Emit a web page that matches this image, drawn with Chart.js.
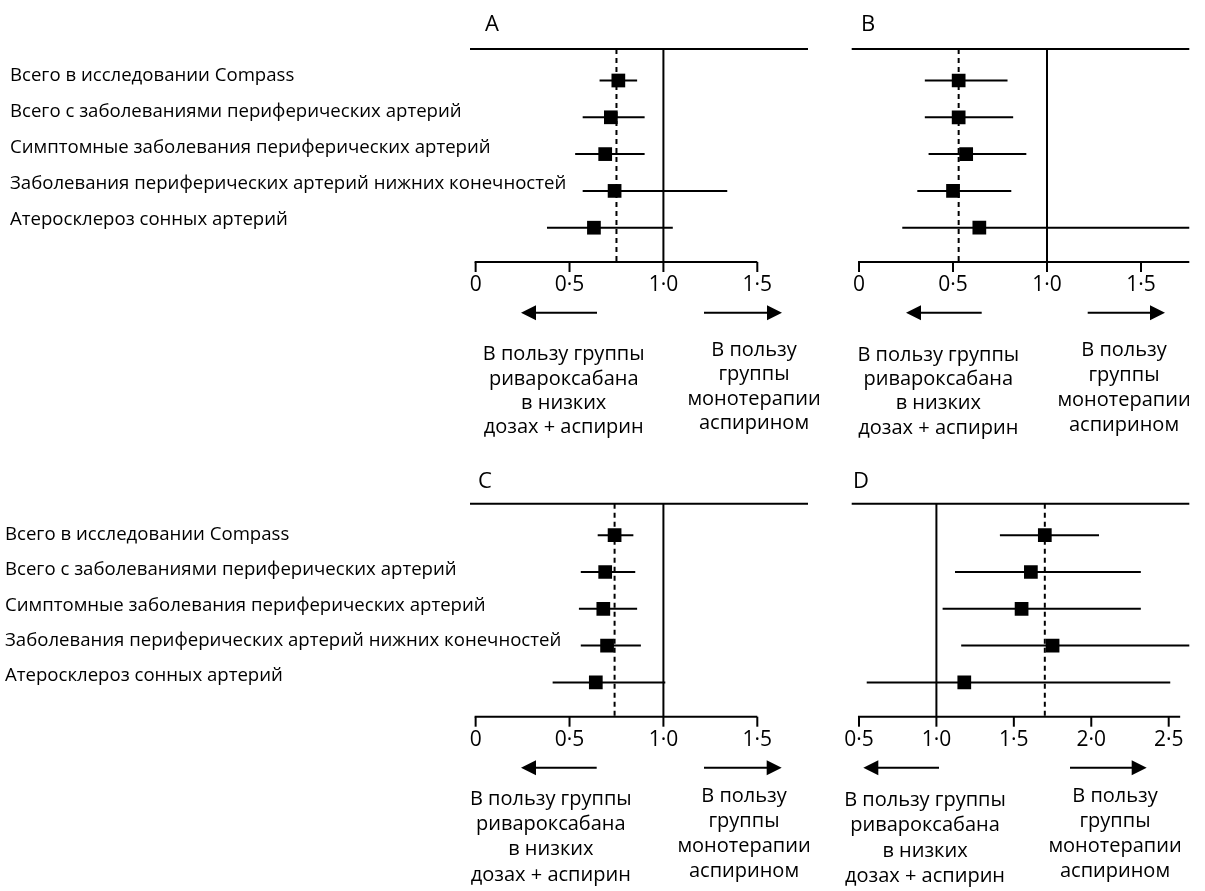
<!DOCTYPE html>
<html>
<head>
<meta charset="utf-8">
<script src="https://cdn.jsdelivr.net/npm/chart.js@4.4.1/dist/chart.umd.min.js"></script>
<style>
  html, body { margin: 0; padding: 0; background: #ffffff; }
  #wrap { position: relative; width: 1205px; height: 891px; overflow: hidden; background: #ffffff; }
  canvas { position: absolute; }
</style>
</head>
<body>
<div id="wrap">
  <canvas id="pA" style="left:0px;top:0px" width="840" height="445"></canvas>
  <canvas id="pB" style="left:840px;top:0px" width="365" height="445"></canvas>
  <canvas id="pC" style="left:0px;top:445px" width="840" height="446"></canvas>
  <canvas id="pD" style="left:840px;top:445px" width="365" height="446"></canvas>
</div>
<script>
// Subgroups (rows, top to bottom)
const categories = [
  'Всего в исследовании Compass',
  'Всего с заболеваниями периферических артерий',
  'Симптомные заболевания периферических артерий',
  'Заболевания периферических артерий нижних конечностей',
  'Атеросклероз сонных артерий'
];

// Panel A: hazard ratio and 95% CI
const hrA   = [0.76, 0.72, 0.69, 0.74, 0.63];
const lowA  = [0.66, 0.57, 0.53, 0.57, 0.38];
const highA = [0.86, 0.90, 0.90, 1.34, 1.05];
const overallA = 0.75;

// Panel B
const hrB   = [0.53, 0.53, 0.57, 0.50, 0.64];
const lowB  = [0.35, 0.35, 0.37, 0.31, 0.23];
const highB = [0.79, 0.82, 0.89, 0.81, 1.76];
const overallB = 0.53;

// Panel C
const hrC   = [0.74, 0.69, 0.68, 0.70, 0.64];
const lowC  = [0.65, 0.56, 0.55, 0.56, 0.41];
const highC = [0.84, 0.85, 0.86, 0.88, 1.01];
const overallC = 0.74;

// Panel D
const hrD   = [1.70, 1.61, 1.55, 1.75, 1.18];
const lowD  = [1.41, 1.12, 1.04, 1.16, 0.55];
const highD = [2.05, 2.32, 2.32, 2.65, 2.51];
const overallD = 1.70;

// Axis ticks and their labels
const ticksABC = [0, 0.5, 1.0, 1.5];
const tickLabelsABC = ['0', '0·5', '1·0', '1·5'];
const ticksD = [0.5, 1.0, 1.5, 2.0, 2.5];
const tickLabelsD = ['0·5', '1·0', '1·5', '2·0', '2·5'];

const lineOfNoEffect = 1.0;

// Direction captions under each axis
const favourLeft  = ['В пользу группы', 'ривароксабана', 'в низких', 'дозах + аспирин'];
const favourRight = ['В пользу', 'группы', 'монотерапии', 'аспирином'];

const FONT = '"Open Sans", "Noto Sans", sans-serif';
const Y_MIN = -0.856, Y_MAX = 4.932;

const panels = [
  { id: 'pA', letter: 'A', hr: hrA, lo: lowA, hi: highA, overall: overallA,
    xMin: -0.03, xMax: 1.77, axisEnd: 1.5, ticks: ticksABC, tickLabels: tickLabelsABC,
    pad: { left: 470, top: 49, right: 32, bottom: 183 },
    cats: { x: 10, top: 27, gap: 35.9 },
    letterPos: { dx: 15, dy: -24.5 },
    arrows: { dy: 50.7, l: [51, 127], r: [234, 312] },
    capL: { dx: 93.7, dy: 92.4, gap: 24.4 }, capR: { dx: 284, dy: 88, gap: 24.4 } },
  { id: 'pB', letter: 'B', hr: hrB, lo: lowB, hi: highB, overall: overallB,
    xMin: -0.039, xMax: 1.757, axisEnd: 1.757, ticks: ticksABC, tickLabels: tickLabelsABC,
    pad: { left: 11.7, top: 49, right: 15.7, bottom: 183 },
    cats: null,
    letterPos: { dx: 9.3, dy: -24.5 },
    arrows: { dy: 50.7, l: [54.3, 130], r: [236, 313.3] },
    capL: { dx: 86.6, dy: 93, gap: 24.3 }, capR: { dx: 272.3, dy: 88, gap: 25 } },
  { id: 'pC', letter: 'C', hr: hrC, lo: lowC, hi: highC, overall: overallC,
    xMin: -0.03, xMax: 1.77, axisEnd: 1.5, ticks: ticksABC, tickLabels: tickLabelsABC,
    pad: { left: 470, top: 58.7, right: 32, bottom: 174.3 },
    cats: { x: 5, top: 31, gap: 35.3 },
    letterPos: { dx: 8, dy: -22 },
    arrows: { dy: 51, l: [51, 126.7], r: [234, 311.7] },
    capL: { dx: 80.8, dy: 82.3, gap: 25.3 }, capR: { dx: 274, dy: 80, gap: 25 } },
  { id: 'pD', letter: 'D', hr: hrD, lo: lowD, hi: highD, overall: overallD,
    xMin: 0.453, xMax: 2.633, axisEnd: 2.574, ticks: ticksD, tickLabels: tickLabelsD,
    pad: { left: 11.7, top: 58.7, right: 15.7, bottom: 174.3 },
    cats: null,
    letterPos: { dx: 1.3, dy: -22 },
    arrows: { dy: 51, l: [11.6, 87.3], r: [218.3, 295] },
    capL: { dx: 73.3, dy: 83.3, gap: 25.5 }, capR: { dx: 263.3, dy: 80, gap: 25 } }
];

function arrow(ctx, x1, x2, y, headAtLeft) {
  const head = 15, half = 7.5;
  ctx.beginPath();
  if (headAtLeft) { ctx.moveTo(x1 + head - 1, y); ctx.lineTo(x2, y); }
  else { ctx.moveTo(x1, y); ctx.lineTo(x2 - head + 1, y); }
  ctx.stroke();
  ctx.beginPath();
  if (headAtLeft) { ctx.moveTo(x1, y); ctx.lineTo(x1 + head, y - half); ctx.lineTo(x1 + head, y + half); }
  else { ctx.moveTo(x2, y); ctx.lineTo(x2 - head, y - half); ctx.lineTo(x2 - head, y + half); }
  ctx.closePath();
  ctx.fill();
}

// Draws the frame: top rule, x axis with ticks, panel letter, row labels and captions
const forestFrame = {
  id: 'forestFrame',
  afterDraw(chart, args, o) {
    const { ctx, chartArea: a, scales: { x } } = chart;
    ctx.save();
    ctx.strokeStyle = '#000';
    ctx.fillStyle = '#000';
    ctx.lineWidth = 2;

    ctx.beginPath();
    ctx.moveTo(a.left, a.top);
    ctx.lineTo(a.right, a.top);
    ctx.stroke();

    const ax0 = x.getPixelForValue(o.ticks[0]);
    const ax1 = x.getPixelForValue(o.axisEnd);
    ctx.beginPath();
    ctx.moveTo(ax0 - 1, a.bottom);
    ctx.lineTo(ax1, a.bottom);
    ctx.stroke();

    ctx.font = '21px ' + FONT;
    ctx.textAlign = 'center';
    ctx.textBaseline = 'middle';
    o.ticks.forEach((t, i) => {
      const px = x.getPixelForValue(t);
      ctx.beginPath();
      ctx.moveTo(px, a.bottom);
      ctx.lineTo(px, a.bottom + 10);
      ctx.stroke();
      ctx.fillText(o.tickLabels[i], px, a.bottom + 23);
    });

    ctx.font = '22px ' + FONT;
    ctx.textAlign = 'left';
    ctx.fillText(o.letter, a.left + o.letterPos.dx, a.top + o.letterPos.dy);

    if (o.cats) {
      ctx.font = '18.6px ' + FONT;
      categories.forEach((c, i) => {
        ctx.fillText(c, o.cats.x, a.top + o.cats.top + i * o.cats.gap);
      });
    }

    const ay = a.bottom + o.arrows.dy;
    arrow(ctx, a.left + o.arrows.l[0], a.left + o.arrows.l[1], ay, true);
    arrow(ctx, a.left + o.arrows.r[0], a.left + o.arrows.r[1], ay, false);

    ctx.font = '20px ' + FONT;
    ctx.textAlign = 'center';
    favourLeft.forEach((s, i) => ctx.fillText(s, a.left + o.capL.dx, a.bottom + o.capL.dy + i * o.capL.gap));
    favourRight.forEach((s, i) => ctx.fillText(s, a.left + o.capR.dx, a.bottom + o.capR.dy + i * o.capR.gap));
    ctx.restore();
  }
};

function buildDatasets(p) {
  const ds = [];
  ds.push({ data: [{ x: lineOfNoEffect, y: Y_MIN }, { x: lineOfNoEffect, y: Y_MAX }],
            showLine: true, borderColor: '#000', borderWidth: 2, pointRadius: 0, order: 4 });
  ds.push({ data: [{ x: p.overall, y: Y_MIN }, { x: p.overall, y: Y_MAX }],
            showLine: true, borderColor: '#000', borderWidth: 2, borderDash: [5, 4], pointRadius: 0, order: 3 });
  p.hr.forEach((v, i) => {
    ds.push({ data: [{ x: p.lo[i], y: i }, { x: p.hi[i], y: i }],
              showLine: true, borderColor: '#000', borderWidth: 2, pointRadius: 0, order: 2 });
  });
  ds.push({ data: p.hr.map((v, i) => ({ x: v, y: i })), showLine: false,
            pointStyle: 'rect', pointRadius: 9.7, pointHoverRadius: 9.7,
            backgroundColor: '#000', borderColor: '#000', borderWidth: 0, order: 1 });
  return ds;
}

panels.forEach(p => {
  new Chart(document.getElementById(p.id), {
    type: 'scatter',
    data: { datasets: buildDatasets(p) },
    options: {
      responsive: false,
      animation: false,
      devicePixelRatio: 1,
      events: [],
      layout: { padding: p.pad },
      scales: {
        x: { type: 'linear', display: false, min: p.xMin, max: p.xMax },
        y: { type: 'linear', display: false, min: Y_MIN, max: Y_MAX, reverse: true }
      },
      plugins: {
        legend: { display: false },
        tooltip: { enabled: false },
        forestFrame: p
      }
    },
    plugins: [forestFrame]
  });
});
</script>
</body>
</html>
